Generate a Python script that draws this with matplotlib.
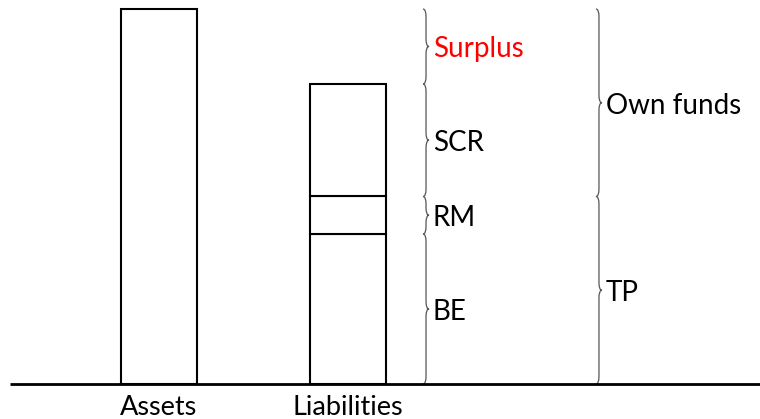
import matplotlib.pyplot as plt
from matplotlib.path import Path
from matplotlib.patches import PathPatch
import numpy as np

plt.rcParams['font.family'] = ['Lato', 'DejaVu Sans']

# Bilanz: Werte der Balken
categories = ["Assets", "Liabilities"]
assets = 150
liab_labels = ["BE", "RM", "SCR"]
liab_values = [60, 15, 45]
surplus = 30
label_colors = ["black", "black", "black", "red"]

# zweite Klammer-Spalte
group_labels = ["TP", "Own funds"]
group_values = [75, 75]


def brace(ax, x, y0, y1, d=0.016, r=3.0, color="#555555", lw=0.9):
    """Geschweifte Klammer nach rechts zwischen y0 und y1."""
    ym = (y0 + y1) / 2
    verts = [(x - d, y1), (x, y1), (x, y1 - r),
             (x, ym + r), (x, ym), (x + d, ym),
             (x, ym), (x, ym - r),
             (x, y0 + r), (x, y0), (x - d, y0)]
    codes = [Path.MOVETO, Path.CURVE3, Path.CURVE3,
             Path.LINETO, Path.CURVE3, Path.CURVE3,
             Path.CURVE3, Path.CURVE3,
             Path.LINETO, Path.CURVE3, Path.CURVE3]
    ax.add_patch(PathPatch(Path(verts, codes), fill=False, edgecolor=color, lw=lw))


fig = plt.figure(figsize=(7.6, 4.19), dpi=100)
ax = fig.add_axes([0, 0, 1, 1])
ax.set_xlim(-0.841, 3.180)
ax.set_ylim(-14, 153.6)
ax.axis("off")

xpos = np.arange(len(categories))
w = 0.40
ax.bar(xpos[0], assets, width=w, color="white", edgecolor="black", linewidth=1.5, zorder=3)
bottom = 0
for v in liab_values:
    ax.bar(xpos[1], v, bottom=bottom, width=w, color="white", edgecolor="black", linewidth=1.5, zorder=3)
    bottom += v

ax.hlines(0, -0.788, 3.180, color="black", lw=2, zorder=4)

for x, c in zip(xpos, categories):
    ax.text(x, -4.2, c, ha="center", va="top", fontsize=19.5)

# erste Klammer-Spalte
bx1 = 1.413
seg_vals = liab_values + [surplus]
seg_labels = liab_labels + ["Surplus"]
edges = np.concatenate([[0], np.cumsum(seg_vals)])
for i, lab in enumerate(seg_labels):
    brace(ax, bx1, edges[i], edges[i + 1])
    ax.text(bx1 + 0.035, (edges[i] + edges[i + 1]) / 2 - 1.2, lab, ha="left", va="center",
            fontsize=20, color=label_colors[i])

# zweite Klammer-Spalte
bx2 = 2.328
edges2 = np.concatenate([[0], np.cumsum(group_values)])
for i, lab in enumerate(group_labels):
    brace(ax, bx2, edges2[i], edges2[i + 1])
    ax.text(bx2 + 0.035, (edges2[i] + edges2[i + 1]) / 2 - 1.2, lab, ha="left", va="center", fontsize=20)

fig.savefig("out.png", dpi=100)
